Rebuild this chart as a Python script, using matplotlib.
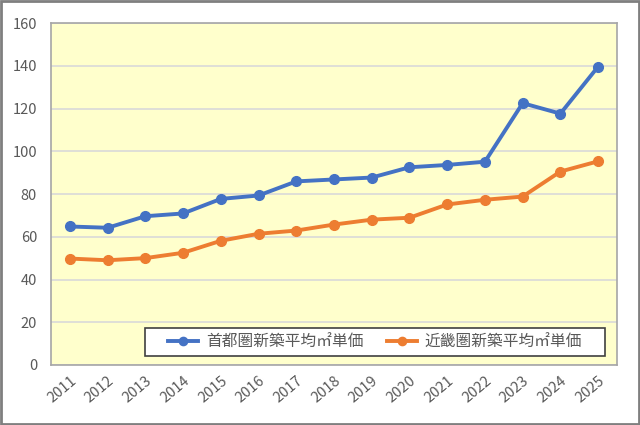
import matplotlib.pyplot as plt
from matplotlib.patches import Rectangle
import numpy as np

plt.rcParams['font.family'] = ['Noto Sans CJK JP', 'DejaVu Sans']

# Data
years = ['2011', '2012', '2013', '2014', '2015', '2016', '2017', '2018',
         '2019', '2020', '2021', '2022', '2023', '2024', '2025']
shutoken = [64.8, 64.2, 69.6, 70.9, 77.7, 79.3, 85.9, 86.8, 87.7, 92.5, 93.6, 95.1, 122.5, 117.6, 139.6]
kinki = [49.8, 49.0, 50.0, 52.5, 58.1, 61.4, 62.9, 65.7, 68.0, 68.9, 75.1, 77.3, 78.8, 90.5, 95.3]
labels = ['首都圏新築平均㎡単価', '近畿圏新築平均㎡単価']
yticks = [0, 20, 40, 60, 80, 100, 120, 140, 160]

fig = plt.figure(figsize=(6.4, 4.25), dpi=100)
ax = fig.add_axes([51/640, 60/425, 566/640, 342/425])

# outer chart border
fig.patches.append(Rectangle((0.002, 0.003), 0.996, 0.994, transform=fig.transFigure,
                             fill=False, edgecolor='#7f7f7f', linewidth=2))

x = np.arange(len(years))
ax.plot(x, shutoken, color='#4472C4', lw=2.8, marker='o', ms=7, label=labels[0], zorder=3)
ax.plot(x, kinki, color='#ED7D31', lw=2.8, marker='o', ms=7, label=labels[1], zorder=3)

ax.set_facecolor('#FFFFCC')
ax.set_xlim(-0.5, len(years) - 0.5)
ax.set_ylim(0, 160)
ax.set_yticks(yticks)
ax.set_xticks(x)
ax.set_xticklabels(years, rotation=40, ha='right', rotation_mode='anchor')
ax.tick_params(length=0, labelsize=10.5, labelcolor='#595959')
ax.tick_params(axis='y', pad=10)
ax.tick_params(axis='x', pad=6)
ax.grid(axis='y', color='#d9d9d9', lw=1.2)
ax.set_axisbelow(True)
for s in ax.spines.values():
    s.set_color('#a6a6a6')
    s.set_linewidth(1.2)

# legend box (Excel style: wide white box, entries centred)
box = Rectangle((0.166, 0.026), 0.813, 0.082, transform=ax.transAxes,
                facecolor='white', edgecolor='#404040', lw=1.2, zorder=4)
ax.add_patch(box)
leg = ax.legend(loc='center', bbox_to_anchor=(0.5725, 0.067), borderaxespad=0, ncol=2,
                fontsize=11.3, frameon=False, handlelength=1.9, handletextpad=0.5,
                columnspacing=1.5, markerscale=0.85)
leg.set_zorder(5)
for t in leg.get_texts():
    t.set_color('#595959')

fig.savefig('out.png', dpi=100)
